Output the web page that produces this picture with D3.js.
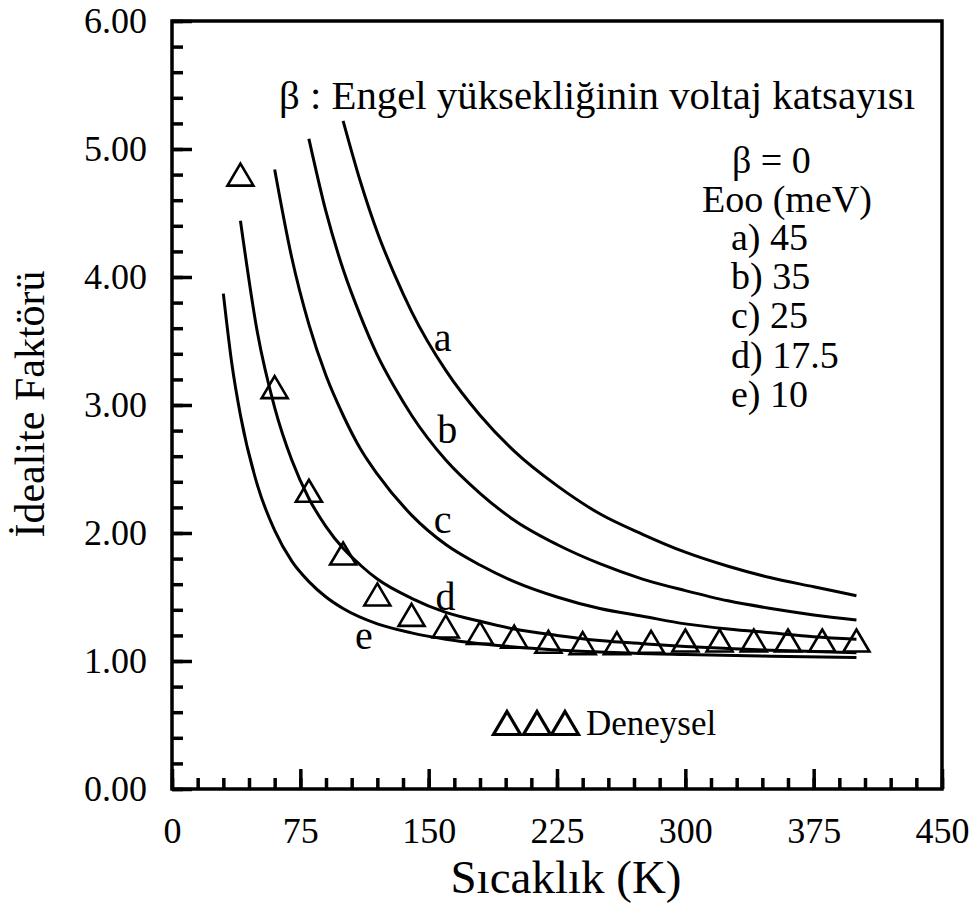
<!DOCTYPE html>
<html>
<head>
<meta charset="utf-8">
<script src="https://cdn.jsdelivr.net/npm/d3@7"></script>
<style>
  body { margin: 0; background: #fff; }
  text { font-family: "Liberation Serif", "Times New Roman", serif; fill: #000; }
</style>
</head>
<body>
<svg id="chart" width="973" height="908"></svg>
<script>
// tick values
var xTicks = [0, 75, 150, 225, 300, 375, 450];
var yTicks = [0, 1, 2, 3, 4, 5, 6];

// theoretical curves, idealite factor vs temperature (K)
var tempA  = [100, 110, 120, 130, 140, 160, 180, 200, 225, 250, 275, 300, 325, 350, 375, 400];
var idealA = [5.22, 4.75, 4.35, 4.02, 3.73, 3.27, 2.92, 2.64, 2.37, 2.15, 1.99, 1.85, 1.74, 1.65, 1.58, 1.51];

var tempB  = [80, 90, 100, 110, 120, 130, 140, 160, 180, 200, 225, 250, 275, 300, 325, 350, 375, 400];
var idealB = [5.08, 4.51, 4.06, 3.70, 3.39, 3.14, 2.92, 2.57, 2.31, 2.10, 1.91, 1.76, 1.64, 1.55, 1.47, 1.41, 1.36, 1.32];

var tempC  = [60, 70, 80, 90, 100, 110, 120, 140, 160, 180, 200, 225, 250, 275, 300, 325, 350, 375, 400];
var idealC = [4.84, 4.15, 3.63, 3.23, 2.92, 2.66, 2.46, 2.14, 1.91, 1.75, 1.62, 1.50, 1.41, 1.35, 1.29, 1.25, 1.22, 1.19, 1.17];

var tempD  = [40, 50, 60, 70, 80, 90, 100, 110, 120, 140, 160, 180, 200, 225, 250, 275, 300, 325, 350, 375, 400];
var idealD = [4.44, 3.56, 2.98, 2.57, 2.27, 2.05, 1.88, 1.75, 1.64, 1.49, 1.38, 1.31, 1.25, 1.20, 1.16, 1.135, 1.114, 1.098, 1.084, 1.074, 1.065];

var tempE  = [30, 35, 40, 50, 60, 70, 80, 90, 100, 120, 140, 160, 180, 200, 250, 300, 350, 400];
var idealE = [3.87, 3.32, 2.92, 2.37, 2.02, 1.78, 1.62, 1.50, 1.41, 1.29, 1.22, 1.17, 1.135, 1.11, 1.07, 1.05, 1.037, 1.028];

// experimental points (Deneysel)
var expT = [40, 60, 80, 100, 120, 140, 160, 180, 200, 220, 240, 260, 280, 300, 320, 340, 360, 380, 400];
var expN = [4.80, 3.14, 2.33, 1.84, 1.52, 1.36, 1.27, 1.22, 1.19, 1.15, 1.14, 1.14, 1.15, 1.16, 1.16, 1.16, 1.16, 1.16, 1.16];

var curveNames = ["a", "b", "c", "d", "e"];
var legendLines = ["a) 45", "b) 35", "c) 25", "d) 17.5", "e) 10"];

var svg = d3.select("#chart");
var pLeft = 172, pRight = 942, pTop = 21, pBottom = 789;

var x = d3.scaleLinear().domain([0, 450]).range([pLeft, pRight]);
var y = d3.scaleLinear().domain([0, 6]).range([pBottom, pTop]);

// minor ticks
svg.append("g")
    .attr("transform", "translate(0," + pBottom + ")")
    .call(d3.axisBottom(x).tickValues(d3.range(0, 451, 15)).tickSize(-11).tickFormat(""))
    .call(function(g) { g.select(".domain").remove(); });
svg.append("g")
    .attr("transform", "translate(" + pLeft + ",0)")
    .call(d3.axisLeft(y).tickValues(d3.range(0, 6.01, 0.2)).tickSize(-11).tickFormat(""))
    .call(function(g) { g.select(".domain").remove(); });

// major ticks + labels
var gx = svg.append("g")
    .attr("transform", "translate(0," + pBottom + ")")
    .call(d3.axisBottom(x).tickValues(xTicks).tickSize(-20).tickPadding(28).tickFormat(d3.format("d")));
var gy = svg.append("g")
    .attr("transform", "translate(" + pLeft + ",0)")
    .call(d3.axisLeft(y).tickValues(yTicks).tickSize(-20).tickPadding(25).tickFormat(d3.format(".2f")));

[gx, gy].forEach(function(g) {
    g.select(".domain").remove();
    g.selectAll("text").attr("font-size", 36).attr("font-family", null);
});
svg.selectAll(".tick line").attr("stroke", "#000").attr("stroke-width", 3.5);

// frame
svg.append("rect")
    .attr("x", pLeft).attr("y", pTop)
    .attr("width", pRight - pLeft).attr("height", pBottom - pTop)
    .attr("fill", "none").attr("stroke", "#000").attr("stroke-width", 3.5);

// curves
var line = d3.line()
    .x(function(d) { return x(d[0]); })
    .y(function(d) { return y(d[1]); })
    .curve(d3.curveMonotoneX);

var curves = [[tempA, idealA], [tempB, idealB], [tempC, idealC], [tempD, idealD], [tempE, idealE]];
svg.append("g").selectAll("path")
    .data(curves)
    .enter()
    .append("path")
    .attr("d", function(c) { return line(d3.zip(c[0], c[1])); })
    .attr("fill", "none")
    .attr("stroke", "#000")
    .attr("stroke-width", 3);

// triangle helper
function tri(cx, cy, w, h) {
    return "M" + cx + "," + (cy - h / 2) + "L" + (cx + w / 2) + "," + (cy + h / 2) +
           "L" + (cx - w / 2) + "," + (cy + h / 2) + "Z";
}

svg.append("g").selectAll("path")
    .data(d3.zip(expT, expN))
    .enter()
    .append("path")
    .attr("d", function(d) { return tri(x(d[0]), y(d[1]), 26, 22); })
    .attr("fill", "none")
    .attr("stroke", "#000")
    .attr("stroke-width", 2.6);

// curve labels
var labelPos = [[153, 3.42], [155, 2.70], [153, 2.00], [154, 1.40], [107, 1.09]];
svg.append("g").selectAll("text")
    .data(curveNames)
    .enter()
    .append("text")
    .attr("x", function(d, i) { return x(labelPos[i][0]); })
    .attr("y", function(d, i) { return y(labelPos[i][1]); })
    .attr("font-size", 40)
    .text(function(d) { return d; });

// header note
svg.append("text")
    .attr("x", 279).attr("y", 109)
    .attr("font-size", 40.8)
    .text("β : Engel yüksekliğinin voltaj katsayısı");

// legend block
svg.append("text").attr("x", 732).attr("y", 173).attr("font-size", 38).text("β = 0");
svg.append("text").attr("x", 702).attr("y", 212).attr("font-size", 38).text("Eoo (meV)");
svg.append("g").selectAll("text")
    .data(legendLines)
    .enter()
    .append("text")
    .attr("x", 731)
    .attr("y", function(d, i) { return 250 + i * 39.2; })
    .attr("font-size", 38)
    .text(function(d) { return d; });

// Deneysel legend
svg.append("g").selectAll("path")
    .data([507, 537, 565])
    .enter()
    .append("path")
    .attr("d", function(d) { return tri(d, 723, 27, 23); })
    .attr("fill", "none")
    .attr("stroke", "#000")
    .attr("stroke-width", 3.2);
svg.append("text").attr("x", 586).attr("y", 735).attr("font-size", 35).text("Deneysel");

// axis titles
svg.append("text")
    .attr("x", 566).attr("y", 893)
    .attr("text-anchor", "middle")
    .attr("font-size", 47)
    .text("Sıcaklık (K)");
svg.append("text")
    .attr("transform", "translate(44,404) rotate(-90)")
    .attr("text-anchor", "middle")
    .attr("font-size", 42)
    .text("İdealite Faktörü");
</script>
</body>
</html>
